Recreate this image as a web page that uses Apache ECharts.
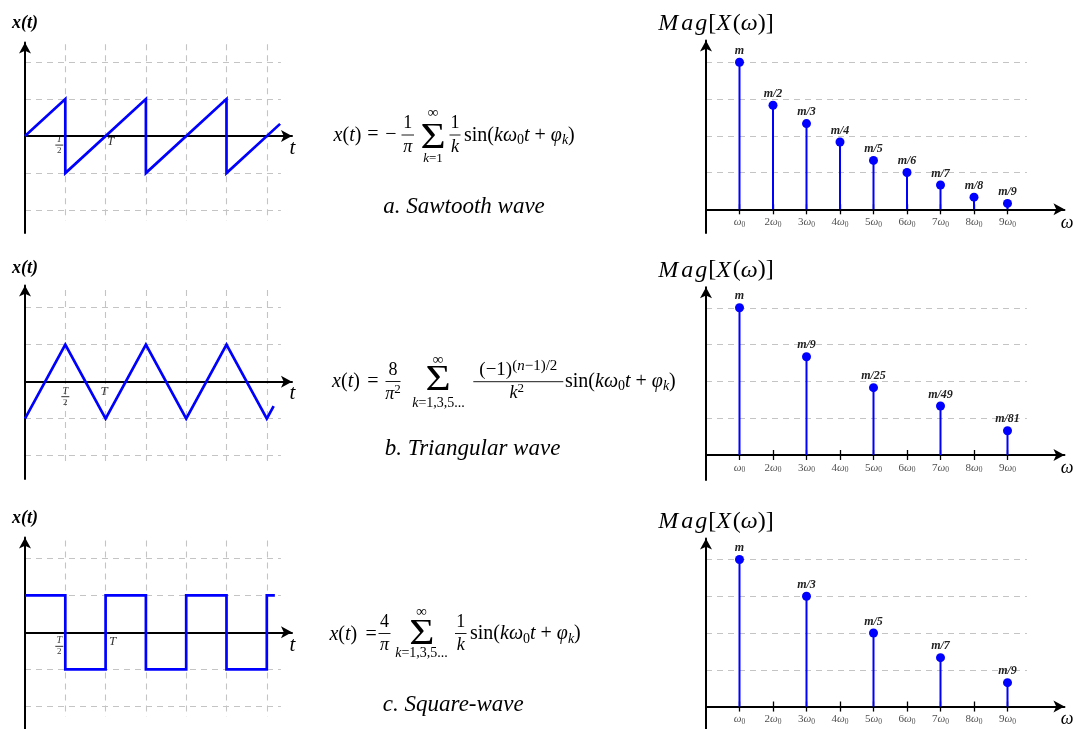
<!DOCTYPE html>
<html>
<head>
<meta charset="utf-8">
<title>Fourier series of periodic waveforms</title>
<script src="https://cdn.jsdelivr.net/npm/echarts@6/dist/echarts.min.js"></script>
<style>
  html, body { margin: 0; padding: 0; background: #ffffff; }
  #chart { width: 1073px; height: 729px; }
</style>
</head>
<body>
<div id="chart"></div>
<script>
// ---------- time-domain waveforms (t measured in half periods: T/2 = 1) ----------
const sawT = [0, 1, 1, 3, 3, 5, 5, 6.33];
const sawX = [0, 1, -1, 1, -1, 1, -1, 0.33];
const triT = [0, 1, 2, 3, 4, 5, 6, 6.17];
const triX = [-1, 1, -1, 1, -1, 1, -1, -0.66];
const sqrT = [0, 1, 1, 2, 2, 3, 3, 4, 4, 5, 5, 6, 6, 6.2];
const sqrX = [1, 1, -1, -1, 1, 1, -1, -1, 1, 1, -1, -1, 1, 1];

// ---------- magnitude spectra ----------
const sawHarm = [1, 2, 3, 4, 5, 6, 7, 8, 9];
const sawMag = [4.0, 2.83, 2.33, 1.83, 1.33, 1.0, 0.66, 0.33, 0.16];
const sawTags = ['m', 'm/2', 'm/3', 'm/4', 'm/5', 'm/6', 'm/7', 'm/8', 'm/9'];
const triHarm = [1, 3, 5, 7, 9];
const triMag = [4.0, 2.67, 1.83, 1.33, 0.66];
const triTags = ['m', 'm/9', 'm/25', 'm/49', 'm/81'];
const sqrHarm = [1, 3, 5, 7, 9];
const sqrMag = [4.0, 3.0, 2.0, 1.33, 0.65];
const sqrTags = ['m', 'm/3', 'm/5', 'm/7', 'm/9'];

// ---------- ticks and guide levels ----------
const timeTickPos = [1, 2];
const timeTickText = ['T/2', 'T'];
const timeGuideT = [1, 2, 3, 4, 5, 6];
const timeGuideX = [-2, -1, 1, 2];
const freqTicks = [1, 2, 3, 4, 5, 6, 7, 8, 9];
const freqCoef = ['', '2', '3', '4', '5', '6', '7', '8', '9'];
const specGuideY = [1, 2, 3, 4];

// ---------- styling ----------
const SERIF = '"Liberation Serif", "DejaVu Serif", serif';
const INK = '#000000';
const LABEL_INK = '#222222';
const BLUE = '#0000ff';
const GUIDE = '#c4c4c4';

const TIME_MAX = 6.625, TIME_GUIDE_END = 6.35, TIME_GUIDE_TOP = 2.48, TIME_GUIDE_BOT = -2.28;
const FREQ_MAX = 10.7, FREQ_GUIDE_END = 9.58, TICK_UP = 0.136;

const timePanels = [
  { t: sawT, x: sawX, top: 42.5, height: 190.5, yMin: -2.62, yMax: 2.53, nameGap: 19, offs: [[-6, 9], [5, 5]] },
  { t: triT, x: triX, top: 285.5, height: 193.5, yMin: -2.63, yMax: 2.6, nameGap: 17, offs: [[0, 15], [-1.5, 10]] },
  { t: sqrT, x: sqrX, top: 537.5, height: 191.5, yMin: -2.61, yMax: 2.56, nameGap: 19, offs: [[-6, 14], [7, 9.5]] }
];
const specPanels = [
  { h: sawHarm, m: sawMag, tags: sawTags, top: 40.5, height: 192.5, yMin: -0.644, yMax: 4.59 },
  { h: triHarm, m: triMag, tags: triTags, top: 287.2, height: 192.8, yMin: -0.68, yMax: 4.56 },
  { h: sqrHarm, m: sqrMag, tags: sqrTags, top: 538.5, height: 190.5, yMin: -0.61, yMax: 4.57 }
];

const arrowLine = {
  onZero: true,
  symbol: ['none', 'arrow'],
  symbolSize: [9, 11],
  lineStyle: { color: INK, width: 2 }
};
const guideStyle = { color: GUIDE, width: 1.1, type: [6, 5], opacity: 1 };
const hidden = { axisTick: { show: false }, axisLabel: { show: false }, splitLine: { show: false } };

const grids = [], xAxes = [], yAxes = [], series = [];

// ---------- x(t) panels ----------
timePanels.forEach(function (p, i) {
  grids.push({ left: 25, top: p.top, width: TIME_MAX * 40.3, height: p.height, outerBoundsMode: 'none', containLabel: false });
  xAxes.push(Object.assign({ gridIndex: i, type: 'value', min: 0, max: TIME_MAX, z: 1, axisLine: arrowLine }, hidden));
  yAxes.push(Object.assign({
    gridIndex: i, type: 'value', min: p.yMin, max: p.yMax, z: 1, axisLine: arrowLine,
    name: 'x(t)', nameLocation: 'end', nameGap: p.nameGap, nameMoveOverlap: false,
    nameTextStyle: { fontFamily: SERIF, fontSize: 18, fontStyle: 'italic', fontWeight: 'bold', color: INK, align: 'center', verticalAlign: 'middle' }
  }, hidden));

  const guides = [];
  timeGuideX.forEach(function (v) { guides.push({ coords: [[0, v], [TIME_GUIDE_END, v]] }); });
  timeGuideT.forEach(function (t) { guides.push({ coords: [[t, TIME_GUIDE_TOP], [t, TIME_GUIDE_BOT]] }); });
  series.push({
    type: 'lines', coordinateSystem: 'cartesian2d', xAxisIndex: i, yAxisIndex: i, z: 0, silent: true,
    lineStyle: guideStyle, data: guides
  });

  series.push({
    type: 'line', xAxisIndex: i, yAxisIndex: i, z: 3, silent: true, symbol: 'none',
    lineStyle: { color: BLUE, width: 2.7, join: 'miter' },
    data: p.t.map(function (t, k) { return [t, p.x[k]]; })
  });

  // T/2 and T markers on the time axis
  series.push({
    type: 'scatter', xAxisIndex: i, yAxisIndex: i, z: 4, silent: true, symbolSize: 1,
    itemStyle: { color: 'transparent' },
    label: {
      show: true, position: 'inside', color: INK,
      formatter: function (d) {
        const s = timeTickText[d.dataIndex];
        if (s.indexOf('/') > 0) {
          const parts = s.split('/');
          return '{n|' + parts[0] + '}\n{b| }\n{d|' + parts[1] + '}';
        }
        return '{t|' + s + '}';
      },
      rich: {
        n: { fontFamily: SERIF, fontSize: 10, fontStyle: 'italic', lineHeight: 8, color: INK, align: 'center' },
        b: { fontFamily: SERIF, fontSize: 1, width: 8, height: 1, lineHeight: 3, backgroundColor: INK, align: 'center' },
        d: { fontFamily: SERIF, fontSize: 9, lineHeight: 8, color: INK, align: 'center' },
        t: { fontFamily: SERIF, fontSize: 13, fontStyle: 'italic', color: INK }
      }
    },
    data: timeTickPos.map(function (t, k) { return { value: [t, 0], label: { offset: p.offs[k] } }; })
  });
});

// ---------- Mag[X(ω)] panels ----------
specPanels.forEach(function (p, j) {
  const i = j + 3;
  grids.push({ left: 706, top: p.top, width: FREQ_MAX * 33.5, height: p.height, outerBoundsMode: 'none', containLabel: false });
  xAxes.push({
    gridIndex: i, type: 'value', min: 0, max: FREQ_MAX, interval: 1, z: 1,
    axisLine: arrowLine,
    axisTick: { show: true, inside: false, length: 5, customValues: freqTicks, lineStyle: { color: INK, width: 1.3 } },
    axisLabel: { show: false },
    splitLine: { show: false }
  });
  yAxes.push(Object.assign({
    gridIndex: i, type: 'value', min: p.yMin, max: p.yMax, z: 1, axisLine: arrowLine,
    name: '{m|M}{a|a}{g|g}{r|[}{x|X}{r|(}{i|ω}{r|)]}', nameLocation: 'end', nameGap: 17, nameMoveOverlap: false,
    nameTextStyle: {
      fontFamily: SERIF, fontSize: 24, color: INK, align: 'center', verticalAlign: 'middle', padding: [0, 0, 0, 20],
      rich: {
        m: { fontFamily: SERIF, fontSize: 24, fontStyle: 'italic', color: INK, padding: [0, 3, 0, 0] },
        a: { fontFamily: SERIF, fontSize: 24, fontStyle: 'italic', color: INK, padding: [0, 2, 0, 0] },
        g: { fontFamily: SERIF, fontSize: 24, fontStyle: 'italic', color: INK, padding: [0, 1, 0, 0] },
        x: { fontFamily: SERIF, fontSize: 24, fontStyle: 'italic', color: INK, padding: [0, 2, 0, 0] },
        i: { fontFamily: SERIF, fontSize: 24, fontStyle: 'italic', color: INK },
        r: { fontFamily: SERIF, fontSize: 24, color: INK }
      }
    }
  }, hidden));

  series.push({
    type: 'lines', coordinateSystem: 'cartesian2d', xAxisIndex: i, yAxisIndex: i, z: 0, silent: true,
    lineStyle: guideStyle,
    data: specGuideY.map(function (v) { return { coords: [[0, v], [FREQ_GUIDE_END, v]] }; })
  });
  // upper half of the crossing tick marks
  series.push({
    type: 'lines', coordinateSystem: 'cartesian2d', xAxisIndex: i, yAxisIndex: i, z: 1, silent: true,
    lineStyle: { color: INK, width: 1.3, type: 'solid', opacity: 1 },
    data: freqTicks.map(function (h) { return { coords: [[h, 0], [h, TICK_UP]] }; })
  });
  // harmonic tick labels kω0 under the axis
  series.push({
    type: 'scatter', xAxisIndex: i, yAxisIndex: i, z: 4, silent: true, symbolSize: 1,
    itemStyle: { color: 'transparent' },
    label: {
      show: true, position: 'bottom', distance: 6,
      formatter: function (d) {
        const c = freqCoef[d.dataIndex];
        return (c ? '{n|' + c + '}' : '') + '{w|ω}{s|0}';
      },
      rich: {
        n: { fontFamily: SERIF, fontSize: 11, color: LABEL_INK, lineHeight: 13 },
        w: { fontFamily: SERIF, fontSize: 11, fontStyle: 'italic', color: LABEL_INK, lineHeight: 13 },
        s: { fontFamily: SERIF, fontSize: 7.5, color: LABEL_INK, lineHeight: 9, verticalAlign: 'bottom' }
      }
    },
    data: freqTicks.map(function (h) { return [h, 0]; })
  });
  series.push({
    type: 'bar', xAxisIndex: i, yAxisIndex: i, z: 2, silent: true, barWidth: 2,
    itemStyle: { color: BLUE },
    data: p.h.map(function (h, k) { return [h, p.m[k]]; })
  });
  series.push({
    type: 'scatter', xAxisIndex: i, yAxisIndex: i, z: 3, silent: true, symbolSize: 9,
    itemStyle: { color: BLUE, opacity: 1 },
    label: {
      show: true, position: 'top', distance: 1,
      fontFamily: SERIF, fontSize: 12, fontStyle: 'italic', fontWeight: 'bold', color: LABEL_INK,
      formatter: function (d) { return p.tags[d.dataIndex]; }
    },
    data: p.h.map(function (h, k) { return [h, p.m[k]]; })
  });
});

// ---------- formulas, captions and axis letters ----------
function mathRich(size, supSize) {
  const sub = Math.round(size * 0.68);
  const sup = supSize || sub;
  return {
    r: { fontFamily: SERIF, fontSize: size, lineHeight: size + 4 },
    i: { fontFamily: SERIF, fontSize: size, fontStyle: 'italic', lineHeight: size + 4 },
    s: { fontFamily: SERIF, fontSize: sub, lineHeight: sub, verticalAlign: 'bottom' },
    si: { fontFamily: SERIF, fontSize: sub, fontStyle: 'italic', lineHeight: sub, verticalAlign: 'bottom' },
    p: { fontFamily: SERIF, fontSize: sup, lineHeight: sup, verticalAlign: 'top' },
    pi: { fontFamily: SERIF, fontSize: sup, fontStyle: 'italic', lineHeight: sup, verticalAlign: 'top' }
  };
}
function mtext(x, y, text, size, align, supSize) {
  return {
    type: 'text', x: x, y: y, silent: true, z: 10,
    style: { text: text, fontFamily: SERIF, fontSize: size, fill: INK, align: align || 'center', verticalAlign: 'middle', rich: mathRich(size, supSize) }
  };
}
function fbar(x1, x2, y) {
  return { type: 'line', silent: true, z: 10, shape: { x1: x1, y1: y, x2: x2, y2: y }, style: { stroke: INK, lineWidth: 0.9 } };
}
function sigma(x, y) {
  return {
    type: 'text', x: x, y: y, scaleX: 1.2, silent: true, z: 10,
    style: { text: 'Σ', fontFamily: SERIF, fontSize: 36, fill: INK, align: 'center', verticalAlign: 'middle' }
  };
}
function caption(x, y, text) {
  return {
    type: 'text', x: x, y: y, silent: true, z: 10,
    style: { text: text, fontFamily: SERIF, fontSize: 23, fontStyle: 'italic', fill: INK, align: 'center', verticalAlign: 'middle' }
  };
}
function axisLetter(x, y, text, size) {
  return {
    type: 'text', x: x, y: y, silent: true, z: 10,
    style: { text: text, fontFamily: SERIF, fontSize: size, fontStyle: 'italic', fill: INK, align: 'center', verticalAlign: 'middle' }
  };
}
const sinTerm = '{r|sin(}{i|kω}{s|0}{i|t}{r| + }{i|φ}{si|k}{r|)}';
const lhs = '{i|x}{r|(}{i|t}{r|)}';

const graphics = [
  // a. sawtooth
  mtext(347.5, 135.5, lhs, 20), mtext(373, 135, '{r|=}', 20), mtext(391, 135, '{r|−}', 20),
  mtext(407.7, 123, '{r|1}', 18), fbar(401.5, 414, 135), mtext(407.7, 147.5, '{i|π}', 18),
  sigma(433, 138.5), mtext(433, 113.5, '{r|∞}', 15), mtext(433, 158.5, '{i|k}{r|=1}', 13),
  mtext(455, 123, '{r|1}', 18), fbar(449.5, 460.5, 135), mtext(455, 147.5, '{i|k}', 18),
  mtext(464, 135.5, sinTerm, 20, 'left'),
  caption(464, 207, 'a. Sawtooth wave'),

  // b. triangular
  mtext(346, 381.7, lhs, 20), mtext(373, 381.5, '{r|=}', 20),
  mtext(393, 370, '{r|8}', 18), fbar(385.5, 400.5, 381.5), mtext(393, 394, '{i|π}{p|2}', 18, 'center', 13),
  sigma(438, 381), mtext(438, 360, '{r|∞}', 15), mtext(438.5, 403, '{i|k}{r|=1,3,5...}', 14),
  mtext(518.3, 370, '{r|(−1)}{p|(}{pi|n}{p|−1)/2}', 19, 'center', 15), fbar(473.3, 563.3, 381.7),
  mtext(516.7, 393.5, '{i|k}{p|2}', 18, 'center', 13),
  mtext(565, 381.7, sinTerm, 20, 'left'),
  caption(472.5, 448.5, 'b. Triangular wave'),

  // c. square
  mtext(343.3, 635, lhs, 20), mtext(371.2, 634.5, '{r|=}', 20),
  mtext(384.5, 622, '{r|4}', 18), fbar(378.5, 390.5, 633.5), mtext(384.5, 645.5, '{i|π}', 18),
  sigma(421.7, 635), mtext(421.7, 612, '{r|∞}', 15), mtext(421.5, 653.5, '{i|k}{r|=1,3,5...}', 14),
  mtext(460.7, 622, '{r|1}', 18), fbar(455, 466.5, 633.5), mtext(460.7, 645, '{i|k}', 18),
  mtext(470, 634, sinTerm, 20, 'left'),
  caption(453.3, 705, 'c. Square-wave'),

  // axis letters t and ω
  axisLetter(292.5, 148, 't', 21), axisLetter(292.5, 393.5, 't', 21), axisLetter(292.5, 645, 't', 21),
  axisLetter(1067, 223, 'ω', 18), axisLetter(1067, 468, 'ω', 18), axisLetter(1067, 719.5, 'ω', 18)
];

const chart = echarts.init(document.getElementById('chart'), null, { renderer: 'canvas' });
chart.setOption({
  backgroundColor: '#ffffff',
  animation: false,
  textStyle: { fontFamily: SERIF },
  grid: grids,
  xAxis: xAxes,
  yAxis: yAxes,
  series: series,
  graphic: { elements: graphics }
});
</script>
</body>
</html>
